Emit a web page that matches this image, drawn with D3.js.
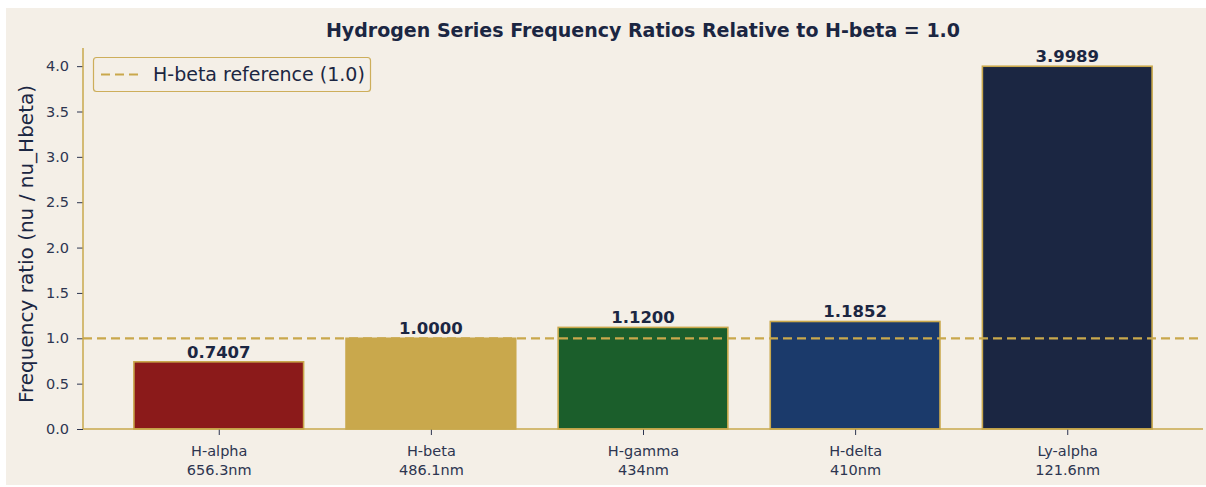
<!DOCTYPE html>
<html><head><meta charset="utf-8">
<script src="https://cdn.jsdelivr.net/npm/d3@7"></script>
<style>body{margin:0;background:#fff;}svg{display:block;font-family:"DejaVu Sans",sans-serif;}</style>
</head><body>
<svg id="c" width="1206" height="487"></svg>
<script>
const categories = ["H-alpha\n656.3nm","H-beta\n486.1nm","H-gamma\n434nm","H-delta\n410nm","Ly-alpha\n121.6nm"];
const values = [0.7407, 1.0000, 1.1200, 1.1852, 3.9989];
const labels = ["0.7407","1.0000","1.1200","1.1852","3.9989"];
const colors = ["#8b1a1a","#c9a84c","#1b5e2b","#1b3a6b","#1b2642"];
const yTicks = [0,0.5,1.0,1.5,2.0,2.5,3.0,3.5,4.0];
const refValue = 1.0;

const gold = "#c9a84c", ink = "#1b2642", tickInk = "#2d3550";
const svg = d3.select("#c");
svg.append("rect").attr("x",6).attr("y",8).attr("width",1200).attr("height",477).attr("fill","#f4efe7");

const L=83, R=1203, T=48, B=429;
const x = d3.scaleLinear().domain([-0.64, 4.64]).range([L,R]);
const y = d3.scaleLinear().domain([0,4.2]).range([B,T]);
const bw = x(0.8)-x(0);

svg.append("text").attr("x",643).attr("y",37).attr("text-anchor","middle")
  .attr("font-size",19).attr("font-weight","bold").attr("fill",ink)
  .text("Hydrogen Series Frequency Ratios Relative to H-beta = 1.0");

// bars
svg.selectAll("rect.bar").data(values).enter().append("rect").attr("class","bar")
  .attr("x",(d,i)=>x(i)-bw/2).attr("width",bw)
  .attr("y",d=>y(d)).attr("height",d=>B-y(d))
  .attr("fill",(d,i)=>colors[i]).attr("stroke",gold).attr("stroke-width",1.6);

// value labels
svg.selectAll("text.val").data(values).enter().append("text").attr("class","val")
  .attr("x",(d,i)=>x(i)).attr("y",d=>y(d)-4).attr("text-anchor","middle")
  .attr("font-size",16.5).attr("font-weight","bold").attr("fill",ink)
  .text((d,i)=>labels[i]);

// ref line
svg.append("line").attr("x1",L).attr("x2",R).attr("y1",y(refValue)).attr("y2",y(refValue))
  .attr("stroke",gold).attr("stroke-width",2.2).attr("stroke-dasharray","9,5");

// y axis
const ya = svg.append("g").attr("transform",`translate(${L},0)`)
  .call(d3.axisLeft(y).tickValues(yTicks).tickFormat(d3.format(".1f")).tickSize(6).tickPadding(8));
ya.select(".domain").remove();
ya.selectAll(".tick line").attr("stroke",tickInk);
ya.selectAll(".tick text").attr("font-size",14.5).attr("fill",tickInk).attr("font-family","DejaVu Sans");

// x axis
const xa = svg.append("g").attr("transform",`translate(0,${B})`)
  .call(d3.axisBottom(x).tickValues(d3.range(categories.length)).tickFormat("").tickSize(6));
xa.select(".domain").remove();
xa.selectAll(".tick line").attr("stroke",tickInk);
xa.selectAll(".tick").each(function(d){
  const t = d3.select(this).append("text").attr("text-anchor","middle").attr("fill",tickInk)
    .attr("font-size",14.5).attr("font-family","DejaVu Sans");
  categories[d].split("\n").forEach((s,k)=>t.append("tspan").attr("x",0).attr("y",27+k*19).text(s));
});

// spines
svg.append("line").attr("x1",L).attr("x2",L).attr("y1",T).attr("y2",B).attr("stroke",gold).attr("stroke-width",1.5);
svg.append("line").attr("x1",L).attr("x2",R).attr("y1",B).attr("y2",B).attr("stroke",gold).attr("stroke-width",1.5);

// y label
svg.append("text").attr("transform",`translate(33,244) rotate(-90)`).attr("text-anchor","middle")
  .attr("font-size",20).attr("fill",ink).text("Frequency ratio (nu / nu_Hbeta)");

// legend
const lg = svg.append("g");
lg.append("rect").attr("x",93.5).attr("y",57.5).attr("width",277).attr("height",34).attr("rx",3)
  .attr("fill","#f4efe7").attr("stroke",gold).attr("stroke-width",1.2).attr("opacity",0.9);
lg.append("line").attr("x1",101).attr("x2",139).attr("y1",74.5).attr("y2",74.5)
  .attr("stroke",gold).attr("stroke-width",2.2).attr("stroke-dasharray","9,5");
lg.append("text").attr("x",153).attr("y",81).attr("font-size",19).attr("fill",ink).text("H-beta reference (1.0)");
</script>
</body></html>
